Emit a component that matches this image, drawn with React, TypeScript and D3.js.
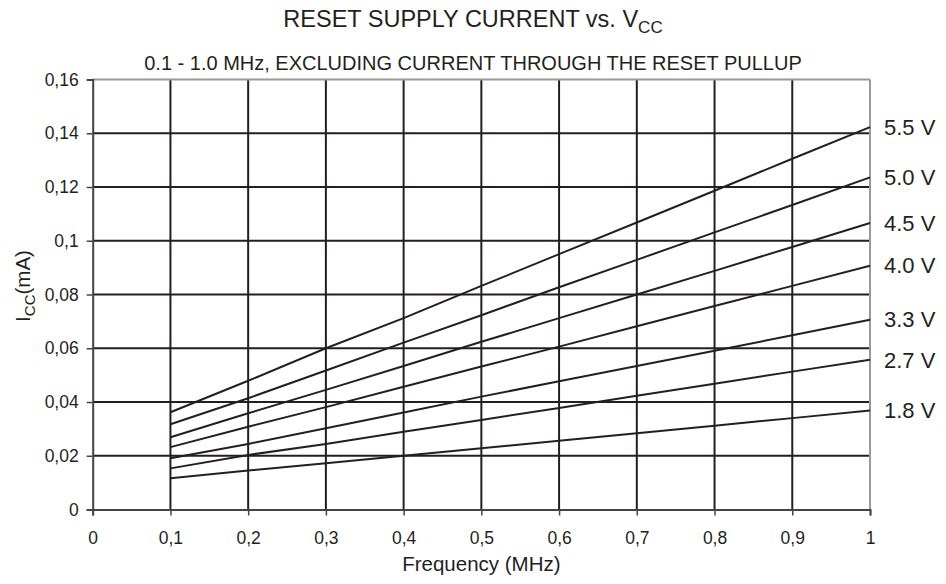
import { useEffect, useRef } from 'react';
import * as d3 from 'd3';

const WIDTH = 946;
const HEIGHT = 584;

const FREQS = [0.1, 0.2, 0.3, 0.4, 0.5, 0.6, 0.7, 0.8, 0.9, 1.0];

const SERIES_LABELS = ['5.5 V', '5.0 V', '4.5 V', '4.0 V', '3.3 V', '2.7 V', '1.8 V'];

const V55 = [0.0362, 0.0479, 0.06, 0.0712, 0.0832, 0.095, 0.1068, 0.1186, 0.1305, 0.1423];
const V50 = [0.0317, 0.0414, 0.0517, 0.0621, 0.0723, 0.0827, 0.0929, 0.1031, 0.1133, 0.1236];
const V45 = [0.0269, 0.0358, 0.0445, 0.0534, 0.0624, 0.0712, 0.08, 0.0888, 0.0977, 0.1066];
const V40 = [0.0232, 0.0308, 0.0381, 0.0457, 0.0532, 0.0606, 0.0682, 0.0757, 0.0832, 0.0907];
const V33 = [0.0191, 0.0244, 0.0302, 0.0361, 0.042, 0.0477, 0.0534, 0.0591, 0.0648, 0.0706];
const V27 = [0.0153, 0.0203, 0.0244, 0.0289, 0.0333, 0.0378, 0.0423, 0.0468, 0.0513, 0.0557];
const V18 = [0.0116, 0.0145, 0.0172, 0.02, 0.0228, 0.0256, 0.0284, 0.0312, 0.034, 0.0368];

const SERIES = [V55, V50, V45, V40, V33, V27, V18];

const X_TICKS = [0, 0.1, 0.2, 0.3, 0.4, 0.5, 0.6, 0.7, 0.8, 0.9, 1];
const X_TICK_LABELS = ['0', '0,1', '0,2', '0,3', '0,4', '0,5', '0,6', '0,7', '0,8', '0,9', '1'];
const Y_TICKS = [0, 0.02, 0.04, 0.06, 0.08, 0.1, 0.12, 0.14, 0.16];
const Y_TICK_LABELS = ['0', '0,02', '0,04', '0,06', '0,08', '0,1', '0,12', '0,14', '0,16'];

const FONT = 'Liberation Sans, Arial, sans-serif';
const INK = '#231f20';

export default function App() {
  const ref = useRef<SVGSVGElement>(null);

  useEffect(() => {
    document.body.style.margin = '0';
    if (!ref.current) return;
    const svg = d3.select(ref.current);
    svg.selectAll('*').remove();

    const margin = { top: 79.5, right: 76, bottom: 74.5, left: 92.7 };
    const innerW = WIDTH - margin.left - margin.right;
    const innerH = HEIGHT - margin.top - margin.bottom;

    const x = d3.scaleLinear().domain([0, 1]).range([margin.left, margin.left + innerW]);
    const y = d3.scaleLinear().domain([0, 0.16]).range([margin.top + innerH, margin.top]);

    svg.append('rect').attr('width', WIDTH).attr('height', HEIGHT).attr('fill', '#fff');

    // titles
    const title = svg.append('text')
      .attr('x', 473)
      .attr('y', 27)
      .attr('text-anchor', 'middle')
      .attr('font-family', FONT)
      .attr('font-size', 23.5)
      .attr('fill', INK);
    title.append('tspan').text('RESET SUPPLY CURRENT vs. V');
    title.append('tspan').attr('font-size', 17).attr('dy', 6).text('CC');

    svg.append('text')
      .attr('x', 473)
      .attr('y', 69.5)
      .attr('text-anchor', 'middle')
      .attr('font-family', FONT)
      .attr('font-size', 20)
      .attr('fill', INK)
      .text('0.1 - 1.0 MHz, EXCLUDING CURRENT THROUGH THE RESET PULLUP');

    // grid
    const grid = svg.append('g');
    Y_TICKS.slice(1, -1).forEach(v => {
      grid.append('line')
        .attr('x1', x(0)).attr('x2', x(1))
        .attr('y1', y(v)).attr('y2', y(v))
        .attr('stroke', INK).attr('stroke-width', 2);
    });
    X_TICKS.slice(1, -1).forEach(v => {
      grid.append('line')
        .attr('x1', x(v)).attr('x2', x(v))
        .attr('y1', y(0)).attr('y2', y(0.16))
        .attr('stroke', INK).attr('stroke-width', 2);
    });

    // frame: gray top/right, darker axes
    grid.append('line')
      .attr('x1', x(0)).attr('x2', x(1)).attr('y1', y(0.16)).attr('y2', y(0.16))
      .attr('stroke', '#9a9a9a').attr('stroke-width', 2);
    grid.append('line')
      .attr('x1', x(1)).attr('x2', x(1)).attr('y1', y(0)).attr('y2', y(0.16))
      .attr('stroke', '#9a9a9a').attr('stroke-width', 2);

    const yAxis = d3.axisLeft(y)
      .tickValues(Y_TICKS)
      .tickSize(6)
      .tickPadding(8)
      .tickFormat((_, i) => Y_TICK_LABELS[i]);
    const gy = svg.append('g').attr('transform', `translate(${x(0)},0)`).call(yAxis);

    const xAxis = d3.axisBottom(x)
      .tickValues(X_TICKS)
      .tickSize(6)
      .tickPadding(16)
      .tickFormat((_, i) => X_TICK_LABELS[i]);
    const gx = svg.append('g').attr('transform', `translate(0,${y(0)})`).call(xAxis);

    [gx, gy].forEach(g => {
      g.select('.domain').attr('stroke', '#444').attr('stroke-width', 2);
      g.selectAll('.tick line').attr('stroke', '#444').attr('stroke-width', 1.5);
      g.selectAll('.tick text')
        .attr('font-family', FONT)
        .attr('font-size', 17.5)
        .attr('fill', INK);
    });

    // axis titles
    svg.append('text')
      .attr('x', x(0.5))
      .attr('y', 571)
      .attr('text-anchor', 'middle')
      .attr('font-family', FONT)
      .attr('font-size', 20.5)
      .attr('fill', INK)
      .text('Frequency (MHz)');

    const ylab = svg.append('text')
      .attr('transform', `translate(30,286) rotate(-90)`)
      .attr('text-anchor', 'middle')
      .attr('font-family', FONT)
      .attr('font-size', 20.5)
      .attr('fill', INK);
    ylab.append('tspan').text('I');
    ylab.append('tspan').attr('font-size', 15).attr('dy', 5).text('CC');
    ylab.append('tspan').attr('dy', -5).text('(mA)');

    // curves
    const line = d3.line<number>()
      .x((_, i) => x(FREQS[i]))
      .y(d => y(d));

    svg.append('g')
      .selectAll('path')
      .data(SERIES)
      .join('path')
      .attr('d', d => line(d))
      .attr('fill', 'none')
      .attr('stroke', INK)
      .attr('stroke-width', 2);

    svg.append('g')
      .selectAll('text')
      .data(SERIES)
      .join('text')
      .attr('x', x(1) + 14)
      .attr('y', d => y(d[d.length - 1]))
      .attr('dy', '0.35em')
      .attr('font-family', FONT)
      .attr('font-size', 22)
      .attr('fill', INK)
      .text((_, i) => SERIES_LABELS[i]);
  }, []);

  return <svg ref={ref} width={WIDTH} height={HEIGHT} style={{ display: 'block' }} />;
}
